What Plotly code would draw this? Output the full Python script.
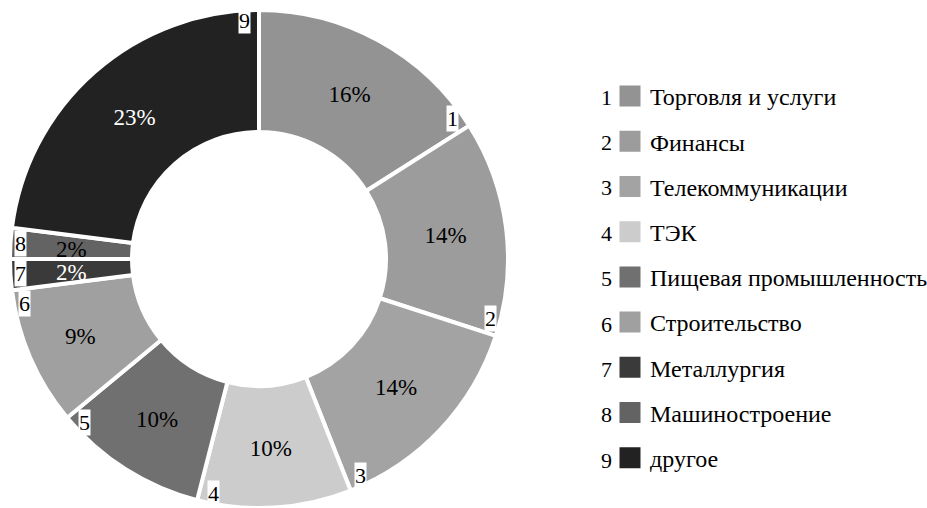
import math
import plotly.graph_objects as go

# данные
nums = ['1', '2', '3', '4', '5', '6', '7', '8', '9']
labels = ['Торговля и услуги', 'Финансы', 'Телекоммуникации', 'ТЭК',
          'Пищевая промышленность', 'Строительство', 'Металлургия',
          'Машиностроение', 'другое']
values = [16, 14, 14, 10, 10, 9, 2, 2, 23]
colors = ['#939393', '#9c9c9c', '#a3a3a3', '#cccccc', '#707070',
          '#a0a0a0', '#3a3a3a', '#636363', '#222222']
textcolors = ['black', 'black', 'black', 'black', 'black',
              'black', 'white', 'black', 'white']

W, H = 927, 508
FONT = '"Times New Roman", "Liberation Serif", "DejaVu Serif", serif'

# геометрия круга (px)
cx, cy, R = 259, 259, 249
HOLE = 0.51

# маленькие сектора подписываем отдельно, чтобы plotly не сжимал текст
small = [v < 5 for v in values]
pie_text = ['' if s else '%d%%' % v for v, s in zip(values, small)]

fig = go.Figure()
fig.add_trace(go.Pie(
    values=values,
    labels=labels,
    text=pie_text,
    sort=False,
    direction='clockwise',
    rotation=0,
    hole=HOLE,
    marker=dict(colors=colors, line=dict(color='white', width=4)),
    texttemplate='%{text}',
    textposition='inside',
    insidetextorientation='horizontal',
    insidetextfont=dict(family=FONT, size=23, color=textcolors),
    showlegend=False,
    hoverinfo='label+percent',
    domain=dict(x=[(cx - R) / W, (cx + R) / W],
                y=[(H - cy - R) / H, (H - cy + R) / H]),
))

# легенда из пустых трасс (крупные квадраты)
for i in range(len(labels)):
    fig.add_trace(go.Scatter(
        x=[None], y=[None], mode='markers', name=labels[i],
        legendgroup=str(i),
        marker=dict(symbol='square', size=16, color=colors[i],
                    line=dict(color=colors[i], width=5)),
    ))


def ann(x, y, text, **kw):
    fig.add_annotation(x=x / W, y=(H - y) / H, xref='paper', yref='paper',
                       xanchor='center', yanchor='middle',
                       text=text, showarrow=False, **kw)


total = sum(values)
cum = 0
for i, v in enumerate(values):
    start = cum
    cum += v
    # номер сектора на внешнем крае
    a = math.radians(cum / total * 360 - 3.5)
    r = R - 10
    ann(cx + r * math.sin(a), cy - r * math.cos(a), nums[i],
        bgcolor='white', borderpad=0,
        font=dict(family=FONT, size=22, color='black'))
    # проценты в узких секторах
    if small[i]:
        am = math.radians((start + cum) / 2 / total * 360)
        rm = R * (1 + HOLE) / 2
        ann(cx + rm * math.sin(am), cy - rm * math.cos(am) + 2, '%d%%' % v,
            font=dict(family=FONT, size=23, color=textcolors[i]))

# номера в легенде
leg_top, leg_step = 97, 45.4
for i in range(len(labels)):
    ann(606, leg_top + i * leg_step, nums[i],
        font=dict(family=FONT, size=22, color='black'))

fig.update_layout(
    width=W, height=H,
    margin=dict(l=0, r=0, t=0, b=0, autoexpand=False),
    font=dict(family=FONT, color='black'),
    paper_bgcolor='white',
    plot_bgcolor='white',
    xaxis=dict(visible=False),
    yaxis=dict(visible=False),
    showlegend=True,
    legend=dict(x=610 / W, y=(H - 74) / H, xanchor='left', yanchor='top',
                font=dict(family=FONT, size=24, color='black'),
                tracegroupgap=11, bgcolor='rgba(0,0,0,0)'),
)

# убрать отступ body, чтобы график стоял в углу окна
fig.write_html("out.html", config={'displayModeBar': False},
               post_script="document.body.style.margin='0';")
